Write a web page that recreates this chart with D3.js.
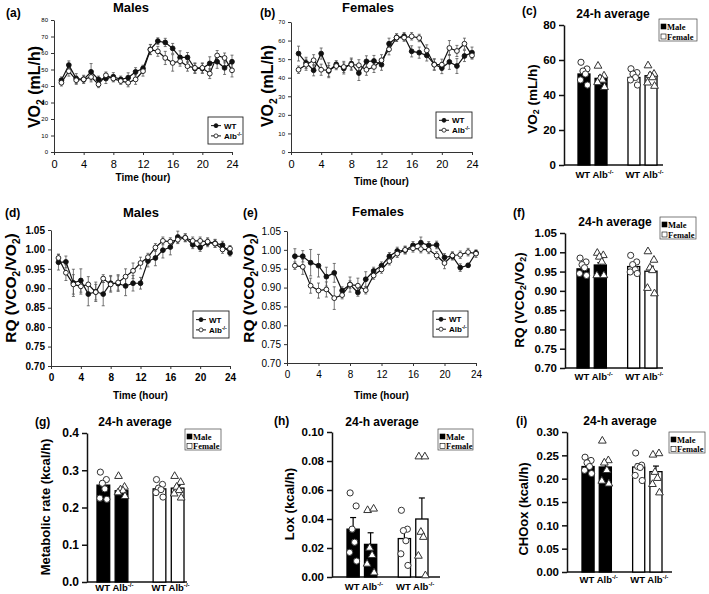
<!DOCTYPE html>
<html><head><meta charset="utf-8">
<script src="https://cdn.jsdelivr.net/npm/d3@7"></script>
<style>
body{margin:0;background:#fff}
svg{display:block;font-family:"Liberation Sans",Arial,sans-serif}
</style></head><body>
<svg id="fig" width="709" height="594"></svg>
<script>
// ---- data ----
const hours = [1,2,3,4,5,6,7,8,9,10,11,12,13,14,15,16,17,18,19,20,21,22,23,24];

const vo2MaleWT   = [43.5,52.7,44.5,44,48.6,44,44.5,45.6,44,45,48.6,50.6,62.2,67.2,66.4,62.8,57.3,57.3,50.6,50.6,53.7,54.7,51,54.7];
const vo2MaleWTErr = [2,2.5,3,2,5,2,3,2.5,2,3,2.5,2,3,2,2.5,3,4,3,3,3,4,4,4,4];
const vo2MaleAlb  = [42,49,43.5,44,45.5,41,46.5,44.5,43,42,44,49,62,61,57,54,55,52,51,51,47.5,58.5,57,49.5];
const vo2MaleAlbErr = [2,3,2.5,2.5,3,2,2,2,2,2.5,3,3,3,3,4,5,3,3,3,3,3,3,3,4];

const vo2FemWT    = [53,48,44,53,43.6,47.2,45,47.6,42.5,48.8,49,47,58.3,61.6,62.3,54.2,53.5,52,47.2,45.2,48.5,46.3,51.7,53.5];
const vo2FemWTErr = [4,3,3,3,3,2,3,3,4,3,3,3,3,2,2,3,3,3,3,3,4,4,3,3];
const vo2FemAlb   = [44.3,47,49.4,44.3,44,46.3,45.8,47,46.7,44.3,45.8,49.4,55.3,61.6,61.6,62.3,61.4,54.7,47,47,56,54.4,58.3,52];
const vo2FemAlbErr = [2,3,3,3,4,2,3,3,3,3,3,3,3,2,2,2,2,3,3,3,4,3,3,2];

const rqMaleWT    = [0.967,0.968,0.914,0.92,0.885,0.891,0.885,0.913,0.912,0.906,0.913,0.913,0.97,0.978,0.998,1.006,1.032,1.03,1.012,1.005,1.017,1.016,1.011,0.991];
const rqMaleWTErr = [0.02,0.015,0.035,0.03,0.03,0.025,0.03,0.02,0.02,0.025,0.02,0.015,0.015,0.02,0.02,0.02,0.015,0.01,0.01,0.01,0.01,0.01,0.01,0.008];
const rqMaleAlb   = [0.978,0.94,0.91,0.905,0.91,0.89,0.925,0.91,0.915,0.93,0.945,0.965,0.98,1.005,1.022,1.02,1.025,1.03,1.022,1.022,1.02,1.015,1.0,1.002];
const rqMaleAlbErr = [0.01,0.02,0.025,0.02,0.02,0.02,0.01,0.02,0.02,0.02,0.02,0.015,0.01,0.01,0.01,0.01,0.01,0.01,0.01,0.01,0.01,0.01,0.01,0.008];

const rqFemWT     = [0.983,0.983,0.966,0.958,0.929,0.939,0.892,0.908,0.887,0.922,0.944,0.958,0.983,0.997,0.999,1.012,1.019,1.012,1.013,0.98,0.983,0.953,0.959,0.992];
const rqFemWTErr  = [0.02,0.015,0.035,0.03,0.025,0.025,0.01,0.02,0.01,0.02,0.01,0.01,0.01,0.01,0.01,0.01,0.015,0.01,0.01,0.01,0.01,0.01,0.005,0.005];
const rqFemAlb    = [0.958,0.955,0.905,0.892,0.895,0.872,0.88,0.908,0.905,0.893,0.932,0.948,0.97,0.99,1.0,1.004,1.002,1.0,0.985,0.965,0.985,0.987,0.994,0.99];
const rqFemAlbErr = [0.01,0.02,0.02,0.02,0.02,0.03,0.01,0.01,0.02,0.01,0.01,0.01,0.01,0.01,0.01,0.01,0.01,0.01,0.01,0.015,0.01,0.01,0.01,0.01];

const barGroups = ["Male", "Female"];
const genotypes = ["WT", "Alb"];

// means / sem in order WT-M, Alb-M, WT-F, Alb-F
const vo2AvgMean = [52, 49.5, 50, 51];
const vo2AvgSem  = [2, 1.5, 1.3, 1.5];
const vo2AvgPts  = [[58.7,54.9,53.7,52,48.6,45.7], [56.6,51,49.5,48.6,47.2,44.4], [55,52.8,52,50,48.6,45.7], [56.8,52,51.2,50,47,45.1]];

const rqAvgMean = [0.957, 0.967, 0.963, 0.951];
const rqAvgSem  = [0.007, 0.006, 0.005, 0.013];
const rqAvgPts  = [[0.985,0.975,0.968,0.96,0.945,0.94], [0.998,0.992,0.988,0.975,0.94,0.94], [0.992,0.975,0.968,0.955,0.949,0.945], [1.002,0.98,0.96,0.953,0.907,0.893]];

const mrAvgMean = [0.26, 0.245, 0.25, 0.252];
const mrAvgSem  = [0.01, 0.007, 0.007, 0.007];
const mrAvgPts  = [[0.295,0.275,0.265,0.25,0.225,0.222], [0.284,0.255,0.248,0.245,0.24,0.23], [0.275,0.262,0.252,0.248,0.24,0.228], [0.284,0.268,0.255,0.246,0.237,0.226]];

const loxAvgMean = [0.033, 0.0225, 0.0265, 0.04];
const loxAvgSem  = [0.008, 0.008, 0.006, 0.0145];
const loxAvgPts  = [[0.058,0.049,0.033,0.024,0.017,0.011], [0.046,0.047,0.02,0.015,0.009,0.003], [0.046,0.033,0.032,0.025,0.016,0.008], [0.083,0.083,0.031,0.0275,0.0145,0.001]];

const choAvgMean = [0.226, 0.225, 0.225, 0.215];
const choAvgSem  = [0.006, 0.012, 0.007, 0.012];
const choAvgPts  = [[0.246,0.239,0.234,0.226,0.218,0.211], [0.281,0.239,0.234,0.218,0.195,0.189], [0.255,0.229,0.226,0.224,0.207,0.196], [0.251,0.254,0.214,0.201,0.188,0.17]];

const timeTicks = [0,4,8,12,16,20,24];

// ---- helpers ----
const svg = d3.select("#fig");

function rich(sel, parts, fs) {
  let shift = 0;
  parts.forEach(([t, k]) => {
    const target = k === "sub" ? fs * 0.3 : k === "sup" ? -fs * 0.4 : 0;
    const ts = sel.append("tspan").text(t).attr("dy", target - shift);
    if (k) ts.attr("font-size", fs * 0.65);
    shift = target;
  });
}

function text(x, y, str, fs, opts = {}) {
  return svg.append("text")
    .attr("x", x).attr("y", y)
    .attr("font-size", fs)
    .attr("font-weight", opts.weight || "bold")
    .attr("text-anchor", opts.anchor || "start")
    .attr("font-family", opts.family || null)
    .text(str);
}

function yLabel(x, y, parts, fs) {
  const t = svg.append("text")
    .attr("transform", `translate(${x},${y}) rotate(-90)`)
    .attr("text-anchor", "middle")
    .attr("dominant-baseline", "middle")
    .attr("font-size", fs)
    .attr("font-weight", "bold");
  rich(t, parts, fs);
}

const VO2 = [["VO", ""], ["2", "sub"], [" (mL/h)", ""]];
const RQ = [["RQ (VCO", ""], ["2", "sub"], ["/VO", ""], ["2", "sub"], [")", ""]];
const ALB = [["Alb", ""], ["-/-", "sup"]];
const WTALB = [["WT Alb", ""], ["-/-", "sup"]];

// ---- line panels ----
function linePanel(c, series) {
  const x = d3.scaleLinear().domain([0, 24]).range([c.left, c.right]);
  const y = d3.scaleLinear().domain([c.ymin, c.ymax]).range([c.bottom, c.top]);
  const g = svg.append("g");

  const ax = g.append("g").attr("transform", `translate(0,${c.bottom})`)
    .call(d3.axisBottom(x).tickValues(timeTicks).tickSize(3).tickSizeOuter(0));
  ax.selectAll("text").attr("font-size", c.xFont).attr("font-weight", c.xWeight)
    .attr("font-family", '"Liberation Sans",Arial,sans-serif').attr("dy", "0.9em");
  const ay = g.append("g").attr("transform", `translate(${c.left},0)`)
    .call(d3.axisLeft(y).tickValues(c.yTicks).tickFormat(c.yFmt).tickSize(3).tickSizeOuter(0));
  ay.selectAll("text").attr("font-size", c.yFont).attr("font-weight", c.xWeight)
    .attr("font-family", '"Liberation Sans",Arial,sans-serif');
  g.selectAll(".domain, .tick line").attr("stroke", "#333");

  series.forEach(s => {
    const pts = hours.map((h, i) => ({ h, v: s.vals[i], e: s.errs[i] }));
    const eb = g.append("g").attr("stroke", "#555").attr("stroke-width", 0.8);
    pts.forEach(p => {
      eb.append("line").attr("x1", x(p.h)).attr("x2", x(p.h)).attr("y1", y(p.v - p.e)).attr("y2", y(p.v + p.e));
      [p.v - p.e, p.v + p.e].forEach(v =>
        eb.append("line").attr("x1", x(p.h) - 1.5).attr("x2", x(p.h) + 1.5).attr("y1", y(v)).attr("y2", y(v)));
    });
  });
  series.forEach(s => {
    const pts = hours.map((h, i) => ({ h, v: s.vals[i] }));
    g.append("path").datum(pts)
      .attr("fill", "none").attr("stroke", "#111").attr("stroke-width", 1.2)
      .attr("d", d3.line().x(d => x(d.h)).y(d => y(d.v)));
    g.selectAll(null).data(pts).join("circle")
      .attr("cx", d => x(d.h)).attr("cy", d => y(d.v)).attr("r", 2.4)
      .attr("fill", s.open ? "#fff" : "#111").attr("stroke", "#111").attr("stroke-width", 0.9);
  });

  // legend
  const L = c.legend;
  g.append("rect").attr("x", L.x).attr("y", L.y).attr("width", L.w).attr("height", L.h)
    .attr("fill", "#fff").attr("stroke", "#222").attr("stroke-width", 0.9);
  [["WT", false], ["Alb", true]].forEach(([name, open], i) => {
    const yy = L.y + L.h * (i === 0 ? 0.32 : 0.7);
    g.append("line").attr("x1", L.x + 3).attr("x2", L.x + 13).attr("y1", yy).attr("y2", yy)
      .attr("stroke", "#111").attr("stroke-width", 1);
    g.append("circle").attr("cx", L.x + 8).attr("cy", yy).attr("r", 2)
      .attr("fill", open ? "#fff" : "#111").attr("stroke", "#111").attr("stroke-width", 0.8);
    const t = g.append("text").attr("x", L.x + 16).attr("y", yy + 3)
      .attr("font-size", 8).attr("font-weight", "bold");
    if (name === "WT") t.text("WT"); else rich(t, ALB, 8);
  });

  text(c.tagX, c.tagY, c.tag, 12);
  text(c.titleX, c.titleY, c.title, 13, { anchor: "middle" });
  text((c.left + c.right) / 2, c.xlabY, "Time (hour)", 10, { anchor: "middle" });
  yLabel(c.ylabX, c.ylabY, c.ylab, c.ylabFont);
}

// ---- bar panels ----
function barPanel(c, means, sems, points) {
  const y = d3.scaleLinear().domain([c.ymin, c.ymax]).range([c.bottom, c.top]);
  const xg = d3.scaleBand().domain(barGroups).range(c.barRange).paddingInner(c.groupPad);
  const xi = d3.scaleBand().domain(genotypes).range([0, xg.bandwidth()]).paddingInner(0.3);
  const g = svg.append("g");

  const ay = g.append("g").attr("transform", `translate(${c.axisX},0)`)
    .call(d3.axisLeft(y).tickValues(c.yTicks).tickFormat(c.yFmt).tickSize(5).tickSizeOuter(0));
  ay.selectAll("text").attr("font-size", c.tickFont).attr("font-weight", "bold")
    .attr("font-family", '"Liberation Sans",Arial,sans-serif');
  ay.selectAll(".domain, .tick line").attr("stroke", "#111").attr("stroke-width", 1.5);
  g.append("line").attr("x1", c.axisX).attr("x2", c.xEnd).attr("y1", c.bottom).attr("y2", c.bottom)
    .attr("stroke", "#111").attr("stroke-width", 1.5);

  const cells = [];
  barGroups.forEach((grp, gi) => genotypes.forEach((gt, ti) => {
    const k = gi * 2 + ti;
    cells.push({ grp, gt, mean: means[k], sem: sems[k], pts: points[k],
      x: xg(grp) + xi(gt), w: xi.bandwidth() });
  }));

  cells.forEach(d => {
    g.append("rect").attr("x", d.x).attr("y", y(d.mean)).attr("width", d.w)
      .attr("height", c.bottom - y(d.mean))
      .attr("fill", d.grp === "Male" ? "#000" : "#fff").attr("stroke", "#000").attr("stroke-width", 1.3);
    const cx = d.x + d.w / 2;
    g.append("line").attr("x1", cx).attr("x2", cx).attr("y1", y(d.mean)).attr("y2", y(d.mean + d.sem))
      .attr("stroke", "#000").attr("stroke-width", 1.2);
    g.append("line").attr("x1", cx - 3).attr("x2", cx + 3).attr("y1", y(d.mean + d.sem)).attr("y2", y(d.mean + d.sem))
      .attr("stroke", "#000").attr("stroke-width", 1.2);
    const jit = [-3, 3, -1, 1.5, -3.5, 3.5];
    d.pts.forEach((v, i) => {
      const px = cx + jit[i], py = y(v);
      if (d.gt === "WT") {
        g.append("circle").attr("cx", px).attr("cy", py).attr("r", 3.1)
          .attr("fill", "#fff").attr("stroke", "#333").attr("stroke-width", 1);
      } else {
        g.append("path").attr("transform", `translate(${px},${py})`)
          .attr("d", d3.symbol().type(d3.symbolTriangle).size(26)())
          .attr("fill", "#fff").attr("stroke", "#333").attr("stroke-width", 1);
      }
    });
  });

  barGroups.forEach(grp => {
    const t = g.append("text").attr("x", xg(grp) + xg.bandwidth() / 2 + 2).attr("y", c.xlabY)
      .attr("text-anchor", "middle").attr("font-size", 9.5).attr("font-weight", "bold");
    rich(t, WTALB, 9.5);
  });

  // legend
  const L = c.legend;
  g.append("rect").attr("x", L.x).attr("y", L.y).attr("width", L.w).attr("height", L.h)
    .attr("fill", "#fff").attr("stroke", "#444").attr("stroke-width", 0.7);
  barGroups.forEach((grp, i) => {
    const yy = L.y + 3 + i * (L.h - 2) / 2;
    g.append("rect").attr("x", L.x + 2).attr("y", yy + 2).attr("width", 5).attr("height", 5)
      .attr("fill", grp === "Male" ? "#000" : "#fff").attr("stroke", "#000").attr("stroke-width", 0.6);
    g.append("text").attr("x", L.x + 8).attr("y", yy + 7.5)
      .attr("font-family", '"Liberation Serif","Times New Roman",serif')
      .attr("font-size", 8.5).attr("font-weight", "bold").text(grp);
  });

  text(c.tagX, c.tagY, c.tag, 12);
  text(c.titleX, c.titleY, "24-h average", 12, { anchor: "middle" });
  yLabel(c.ylabX, c.ylabY, c.ylab, c.ylabFont);
}

// ---- draw ----
const f0 = d => d, f1 = d3.format(".1f"), f2 = d3.format(".2f");

linePanel({ left: 54, right: 232, top: 20, bottom: 152, ymin: 0, ymax: 80,
  yTicks: [0,10,20,30,40,50,60,70,80], yFmt: f0, yFont: 6, xFont: 11, xWeight: "normal",
  tag: "(a)", tagX: 6, tagY: 17, title: "Males", titleX: 131, titleY: 12, xlabY: 181,
  ylab: VO2, ylabX: 36, ylabY: 87, ylabFont: 16, legend: { x: 208, y: 117, w: 35, h: 27 } },
  [{ vals: vo2MaleWT, errs: vo2MaleWTErr, open: false }, { vals: vo2MaleAlb, errs: vo2MaleAlbErr, open: true }]);

linePanel({ left: 291, right: 472, top: 22, bottom: 152, ymin: 0, ymax: 70,
  yTicks: [0,10,20,30,40,50,60,70], yFmt: f0, yFont: 6, xFont: 11, xWeight: "normal",
  tag: "(b)", tagX: 260, tagY: 17, title: "Females", titleX: 368, titleY: 12, xlabY: 185,
  ylab: VO2, ylabX: 269, ylabY: 86, ylabFont: 16, legend: { x: 436, y: 112, w: 36, h: 26 } },
  [{ vals: vo2FemWT, errs: vo2FemWTErr, open: false }, { vals: vo2FemAlb, errs: vo2FemAlbErr, open: true }]);

linePanel({ left: 51, right: 230, top: 230, bottom: 366, ymin: 0.70, ymax: 1.05,
  yTicks: [0.70,0.75,0.80,0.85,0.90,0.95,1.00,1.05], yFmt: f2, yFont: 10, xFont: 10, xWeight: "bold",
  tag: "(d)", tagX: 5, tagY: 217, title: "Males", titleX: 141, titleY: 217, xlabY: 399,
  ylab: RQ, ylabX: 12, ylabY: 288, ylabFont: 15.5, legend: { x: 193, y: 311, w: 36, h: 27 } },
  [{ vals: rqMaleWT, errs: rqMaleWTErr, open: false }, { vals: rqMaleAlb, errs: rqMaleAlbErr, open: true }]);

linePanel({ left: 287, right: 476, top: 231, bottom: 363, ymin: 0.70, ymax: 1.05,
  yTicks: [0.70,0.75,0.80,0.85,0.90,0.95,1.00,1.05], yFmt: f2, yFont: 10, xFont: 10, xWeight: "normal",
  tag: "(e)", tagX: 243, tagY: 217, title: "Females", titleX: 378, titleY: 216, xlabY: 399,
  ylab: RQ, ylabX: 250, ylabY: 288, ylabFont: 15.5, legend: { x: 433, y: 311, w: 35, h: 26 } },
  [{ vals: rqFemWT, errs: rqFemWTErr, open: false }, { vals: rqFemAlb, errs: rqFemAlbErr, open: true }]);

barPanel({ axisX: 564, xEnd: 663, top: 25, bottom: 165, ymin: 0, ymax: 80,
  yTicks: [0,20,40,60,80], yFmt: f0, tickFont: 11.5, barRange: [578, 657], groupPad: 0.42,
  tag: "(c)", tagX: 522, tagY: 15, titleX: 613, titleY: 18, xlabY: 178,
  ylab: VO2, ylabX: 533, ylabY: 99, ylabFont: 13.5, legend: { x: 659, y: 19, w: 38, h: 22 } },
  vo2AvgMean, vo2AvgSem, vo2AvgPts);

barPanel({ axisX: 565, xEnd: 663, top: 233, bottom: 368, ymin: 0.70, ymax: 1.05,
  yTicks: [0.70,0.75,0.80,0.85,0.90,0.95,1.00,1.05], yFmt: f2, tickFont: 11.5, barRange: [577, 657], groupPad: 0.42,
  tag: "(f)", tagX: 513, tagY: 217, titleX: 615, titleY: 226, xlabY: 380,
  ylab: RQ, ylabX: 520, ylabY: 300, ylabFont: 13.5, legend: { x: 660, y: 217, w: 36, h: 22 } },
  rqAvgMean, rqAvgSem, rqAvgPts);

barPanel({ axisX: 87, xEnd: 187, top: 433, bottom: 582, ymin: 0, ymax: 0.4,
  yTicks: [0,0.1,0.2,0.3,0.4], yFmt: f1, tickFont: 12, barRange: [97, 184], groupPad: 0.45,
  tag: "(g)", tagX: 35, tagY: 426, titleX: 135, titleY: 426, xlabY: 591,
  ylab: [["Metabolic rate (kcal/h)", ""]], ylabX: 47, ylabY: 507, ylabFont: 13, legend: { x: 185, y: 429, w: 36, h: 21 } },
  mrAvgMean, mrAvgSem, mrAvgPts);

barPanel({ axisX: 332, xEnd: 440, top: 432, bottom: 577, ymin: 0, ymax: 0.10,
  yTicks: [0,0.02,0.04,0.06,0.08,0.10], yFmt: f2, tickFont: 11.5, barRange: [347, 428], groupPad: 0.42,
  tag: "(h)", tagX: 274, tagY: 425, titleX: 382, titleY: 426, xlabY: 590,
  ylab: [["Lox (kcal/h)", ""]], ylabX: 291, ylabY: 504, ylabFont: 13, legend: { x: 438, y: 429, w: 35, h: 21 } },
  loxAvgMean, loxAvgSem, loxAvgPts);

barPanel({ axisX: 567, xEnd: 672, top: 432, bottom: 572, ymin: 0, ymax: 0.30,
  yTicks: [0,0.05,0.10,0.15,0.20,0.25,0.30], yFmt: f2, tickFont: 11.5, barRange: [582, 662], groupPad: 0.42,
  tag: "(i)", tagX: 516, tagY: 425, titleX: 620, titleY: 425, xlabY: 583,
  ylab: [["CHOox (kcal/h)", ""]], ylabX: 525, ylabY: 509, ylabFont: 13, legend: { x: 669, y: 432, w: 36, h: 21 } },
  choAvgMean, choAvgSem, choAvgPts);
</script>
</body></html>
